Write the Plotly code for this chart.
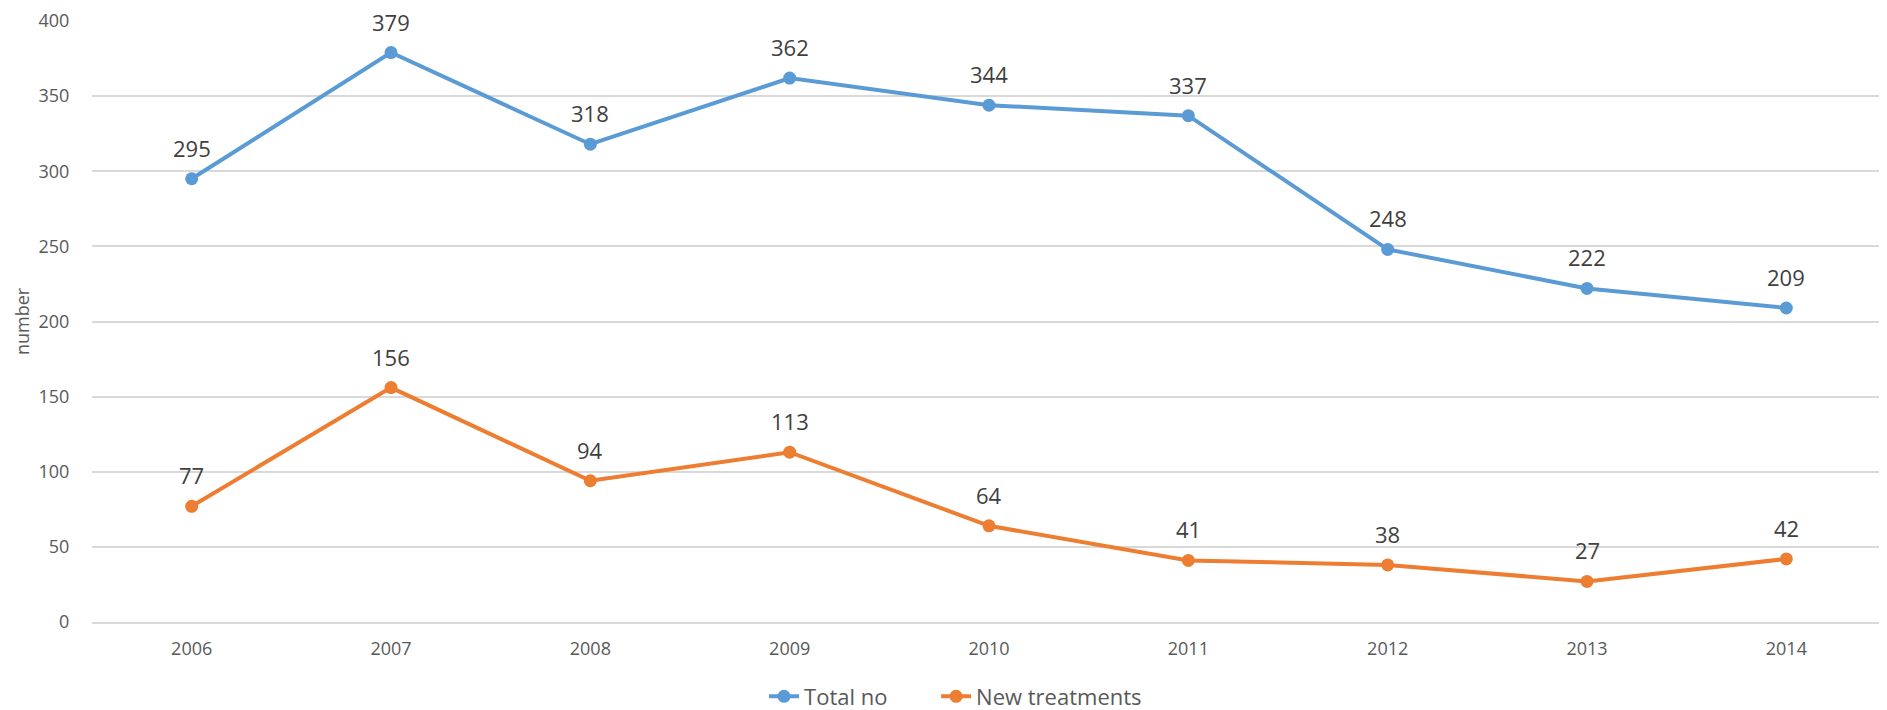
import plotly.graph_objects as go

years = ["2006", "2007", "2008", "2009", "2010", "2011", "2012", "2013", "2014"]
total_no = [295, 379, 318, 362, 344, 337, 248, 222, 209]
new_treatments = [77, 156, 94, 113, 64, 41, 38, 27, 42]
y_ticks = [0, 50, 100, 150, 200, 250, 300, 350, 400]

BLUE = "#5B9BD5"
ORANGE = "#ED7D31"
FONT = "Open Sans"

fig = go.Figure()
fig.add_trace(go.Scatter(x=years, y=total_no, name="Total no", mode="lines+markers",
                         line=dict(color=BLUE, width=4), marker=dict(color=BLUE, size=13),
                         legend="legend"))
fig.add_trace(go.Scatter(x=years, y=new_treatments, name="New treatments", mode="lines+markers",
                         line=dict(color=ORANGE, width=4), marker=dict(color=ORANGE, size=13),
                         legend="legend2"))

annotations = []
for series in (total_no, new_treatments):
    for i, yv in enumerate(series):
        # category axis: use the category index so numeric-looking labels are not misread
        annotations.append(dict(x=i, y=yv, xref="x", yref="y", text=str(yv), showarrow=False,
                                yshift=31, yanchor="middle", xanchor="center",
                                font=dict(family=FONT, size=22, color="#404040")))

legend_common = dict(orientation="h", xanchor="left", y=-0.124, yanchor="middle",
                     bgcolor="rgba(0,0,0,0)",
                     font=dict(family=FONT, size=22, color="#595959"))

fig.update_layout(
    width=1879, height=702,
    margin=dict(l=84, r=1, t=13, b=88, autoexpand=False),
    paper_bgcolor="white", plot_bgcolor="white",
    font=dict(family=FONT, color="#595959"),
    showlegend=True,
    annotations=annotations,
    legend=dict(x=0.3746, **legend_common),
    legend2=dict(x=0.4705, **legend_common),
    xaxis=dict(type="category", range=[-0.5, 8.5], showgrid=False, automargin=False,
               showline=True, linecolor="#D9D9D9", linewidth=1.5,
               ticks="outside", ticklen=10, tickcolor="rgba(0,0,0,0)",
               tickfont=dict(family=FONT, size=18, color="#595959")),
    yaxis=dict(range=[0, 400], tickvals=y_ticks, showgrid=True, gridcolor="#D9D9D9",
               gridwidth=1.5, zeroline=False, showline=False, automargin=False,
               ticks="outside", ticklen=18, tickcolor="rgba(0,0,0,0)",
               tickfont=dict(family=FONT, size=18, color="#595959"),
               title=dict(text="number", font=dict(family=FONT, size=18, color="#595959"),
                          standoff=4)),
)

fig.write_html("out.html")
